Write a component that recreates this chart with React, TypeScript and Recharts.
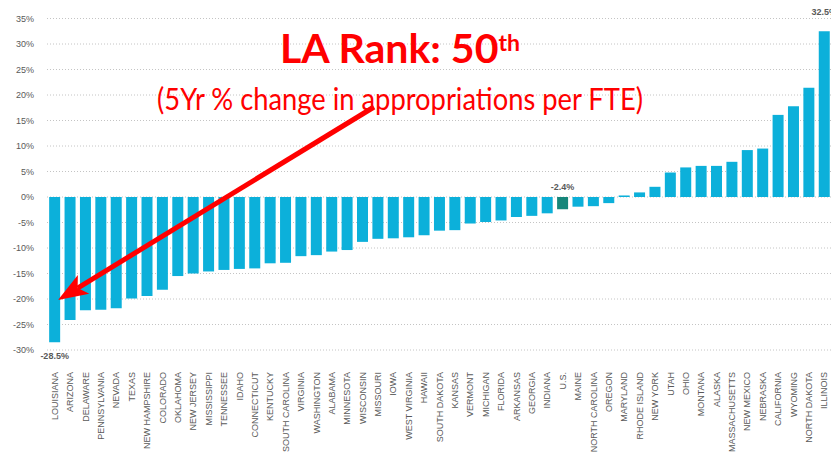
import { Bar, BarChart, CartesianGrid, Cell, LabelList, XAxis, YAxis } from "recharts"

const states = [
  "LOUISIANA", "ARIZONA", "DELAWARE", "PENNSYLVANIA", "NEVADA", "TEXAS", "NEW HAMPSHIRE",
  "COLORADO", "OKLAHOMA", "NEW JERSEY", "MISSISSIPPI", "TENNESSEE", "IDAHO", "CONNECTICUT",
  "KENTUCKY", "SOUTH CAROLINA", "VIRGINIA", "WASHINGTON", "ALABAMA", "MINNESOTA", "WISCONSIN",
  "MISSOURI", "IOWA", "WEST VIRGINIA", "HAWAII", "SOUTH DAKOTA", "KANSAS", "VERMONT",
  "MICHIGAN", "FLORIDA", "ARKANSAS", "GEORGIA", "INDIANA", "U.S.", "MAINE", "NORTH CAROLINA",
  "OREGON", "MARYLAND", "RHODE ISLAND", "NEW YORK", "UTAH", "OHIO", "MONTANA", "ALASKA",
  "MASSACHUSETTS", "NEW MEXICO", "NEBRASKA", "CALIFORNIA", "WYOMING", "NORTH DAKOTA", "ILLINOIS",
]

// 5-year % change in appropriations per FTE
const change = [
  -28.5, -24.1, -22.2, -22.1, -21.8, -19.9, -19.4, -18.2, -15.5, -15.0, -14.6, -14.3, -14.1,
  -14.0, -13.0, -12.9, -11.6, -11.4, -10.7, -10.4, -8.8, -8.2, -8.1, -7.9, -7.5, -6.6, -6.5,
  -5.2, -4.9, -4.6, -3.9, -3.7, -3.2, -2.4, -1.9, -1.8, -1.2, 0.3, 0.9, 2.0, 4.8, 5.8, 6.1,
  6.1, 6.9, 9.2, 9.5, 16.1, 17.8, 21.4, 32.5,
]

const labeled = ["LOUISIANA", "U.S.", "ILLINOIS"]
const yTicks = [-30, -25, -20, -15, -10, -5, 0, 5, 10, 15, 20, 25, 30, 35]

const data = states.map((name, i) => ({
  name,
  value: change[i],
  label: labeled.includes(name) ? `${change[i]}%` : "",
}))

const BAR = "#0cb0da"
const US = "#16867a"
const GREY = "#595959"

function StateTick(props: any) {
  const { x, y, payload } = props
  return (
    <g transform={`translate(${x},${y})`}>
      <text
        transform="rotate(-90)"
        textAnchor="end"
        dy="0.35em"
        fontSize={9}
        fontFamily="Liberation Sans, Arial, sans-serif"
        fill={GREY}
      >
        {payload.value}
      </text>
    </g>
  )
}

function ValueLabel(props: any) {
  const { x, y, width, height, value } = props
  if (!value) return null
  const top = Math.min(y, y + height)
  const bottom = Math.max(y, y + height)
  const num = parseFloat(value)
  let ty = top - 16
  if (num < 0) ty = num < -10 ? bottom + 17 : top - 7
  return (
    <text
      x={x + width / 2}
      y={ty}
      textAnchor="middle"
      fontSize={9}
      fontWeight="bold"
      fontFamily="Liberation Sans, Arial, sans-serif"
      fill={GREY}
    >
      {value}
    </text>
  )
}

function Annotation() {
  // arrow from the subtitle down to Louisiana's bar
  const sx = 374, sy = 107, tx = 58, ty = 300
  const dx = tx - sx, dy = ty - sy
  const len = Math.sqrt(dx * dx + dy * dy)
  const ux = dx / len, uy = dy / len
  const nx = -uy, ny = ux
  const hl = 30, hw = 11
  const bx = tx - ux * hl, by = ty - uy * hl
  const nbx = tx - ux * (hl - 7), nby = ty - uy * (hl - 7)
  const head = `${tx},${ty} ${bx + nx * hw},${by + ny * hw} ${nbx},${nby} ${bx - nx * hw},${by - ny * hw}`
  return (
    <svg width={831} height={465} style={{ position: "absolute", left: 0, top: 0, pointerEvents: "none" }}>
      <line x1={sx} y1={sy} x2={nbx} y2={nby} stroke="#ff0000" strokeWidth={5} />
      <polygon points={head} fill="#ff0000" />
      <text x={280} y={63} fontSize={41} fontWeight="bold" fontFamily="Lato, sans-serif" fill="#ff0000"
        textLength={240} lengthAdjust="spacingAndGlyphs">
        LA Rank: 50
        <tspan fontSize={23} dy={-12}>th</tspan>
      </text>
      <text x={157} y={110} fontSize={31} fontFamily="Lato, sans-serif" fill="#ff0000"
        textLength={486} lengthAdjust="spacingAndGlyphs">
        (5Yr % change in appropriations per FTE)
      </text>
    </svg>
  )
}

export default function App() {
  return (
    <div style={{ position: "absolute", left: 0, top: 0, width: 831, height: 465, overflow: "hidden", background: "#fff" }}>
      <BarChart
        width={832}
        height={465}
        data={data}
        margin={{ top: 18.5, right: 0, left: 7, bottom: 0 }}
        barCategoryGap="14%"
      >
        <CartesianGrid vertical={false} stroke="#c4c4c4" strokeDasharray="1 2" />
        <XAxis
          dataKey="name"
          interval={0}
          height={115}
          axisLine={false}
          tickLine={false}
          tickSize={0}
          tickMargin={22}
          tick={<StateTick />}
        />
        <YAxis
          width={40}
          domain={[-30, 35]}
          ticks={yTicks}
          interval={0}
          axisLine={false}
          tickLine={false}
          tickMargin={7}
          tickFormatter={(v) => `${v}%`}
          tick={{ fill: GREY, fontSize: 9, fontFamily: "Liberation Sans, Arial, sans-serif" }}
        />
        <Bar dataKey="value" isAnimationActive={false}>
          {data.map((d) => (
            <Cell key={d.name} fill={d.name === "U.S." ? US : BAR} />
          ))}
          <LabelList dataKey="label" content={<ValueLabel />} />
        </Bar>
      </BarChart>
      <Annotation />
    </div>
  )
}
